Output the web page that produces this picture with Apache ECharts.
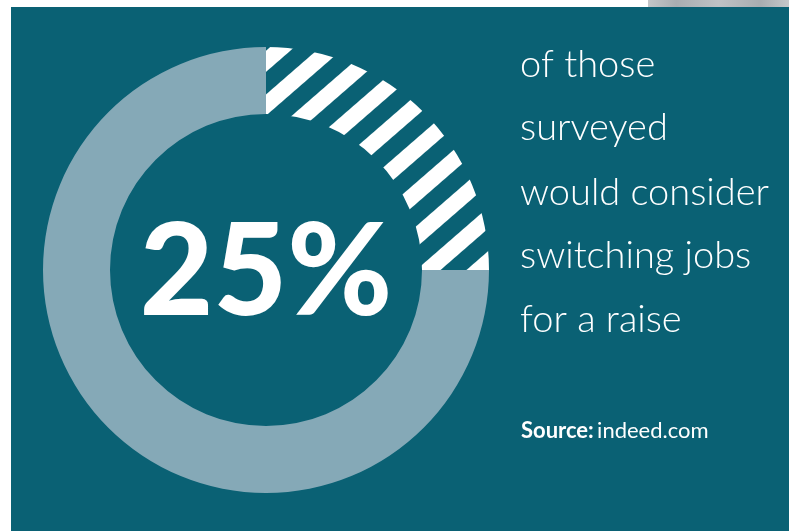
<!DOCTYPE html>
<html>
<head>
<meta charset="utf-8">
<script src="https://cdn.jsdelivr.net/npm/echarts@6/dist/echarts.min.js"></script>
<style>
html,body{margin:0;padding:0;background:#ffffff;}
#chart{width:789px;height:531px;}
</style>
</head>
<body>
<div id="chart"></div>
<script>
// ---- data ----
var categories = ['Would consider switching for a raise', 'Others'];
var values = [25, 75];
var bigLabel = '25%';
var captionLines = ['of those', 'surveyed', 'would consider', 'switching jobs', 'for a raise'];
var sourceLabel = 'Source:';
var sourceText = 'indeed.com';

// ---- styles ----
var TEAL = '#0a6174';
var GRAY = '#85a9b7';

// stripe pattern tile (horizontal stripes, rotated by the pattern transform)
var P = 33, W = 16;
var tile = document.createElement('canvas');
tile.width = 8; tile.height = P;
var tctx = tile.getContext('2d');
tctx.fillStyle = TEAL; tctx.fillRect(0, 0, 8, P);
tctx.fillStyle = '#ffffff'; tctx.fillRect(0, 0, 8, W);

var chart = echarts.init(document.getElementById('chart'), null, {renderer: 'canvas'});

var graphics = [
  {type: 'rect', shape: {x: 11, y: 7, width: 778, height: 524}, style: {fill: TEAL}, z: -10, silent: true},
  {type: 'rect', shape: {x: 648, y: 0, width: 141, height: 7},
   style: {fill: new echarts.graphic.LinearGradient(0, 0, 1, 0, [
     {offset: 0, color: '#c4c6c8'}, {offset: 0.2, color: '#a9adb1'}, {offset: 0.5, color: '#bfc2c5'},
     {offset: 0.8, color: '#a8acb0'}, {offset: 1, color: '#c6c8ca'}])}, z: -10, silent: true},
  {type: 'text', x: 266, y: 274, z: 10,
   style: {text: bigLabel, fill: '#ffffff', font: '900 127px Lato', align: 'center', verticalAlign: 'middle'}}
];
var baseY = [65, 128, 193, 256, 320];
captionLines.forEach(function (t, i) {
  graphics.push({type: 'text', x: 520, y: baseY[i], z: 10,
    style: {text: t, fill: '#ffffff', font: '300 38px Lato', align: 'left', verticalAlign: 'middle'}});
});
graphics.push({type: 'text', x: 521, y: 431, z: 10,
  style: {text: '{b|' + sourceLabel + '} {r|' + sourceText + '}', fill: '#ffffff', align: 'left', verticalAlign: 'middle',
    rich: {b: {font: 'bold 22px Lato', fill: '#ffffff'}, r: {font: '400 22px Lato', fill: '#ffffff'}}}});

chart.setOption({
  animation: false,
  backgroundColor: '#ffffff',
  graphic: graphics,
  series: [{
    type: 'pie',
    center: [266, 270],
    radius: [156, 223],
    startAngle: 90,
    clockwise: true,
    silent: true,
    label: {show: false},
    labelLine: {show: false},
    emphasis: {disabled: true},
    data: [
      {name: categories[0], value: values[0],
       itemStyle: {color: {image: tile, repeat: 'repeat', x: 267.3, y: 93.3, rotation: -41 * Math.PI / 180}}},
      {name: categories[1], value: values[1], itemStyle: {color: GRAY}}
    ]
  }]
});
</script>
</body>
</html>
